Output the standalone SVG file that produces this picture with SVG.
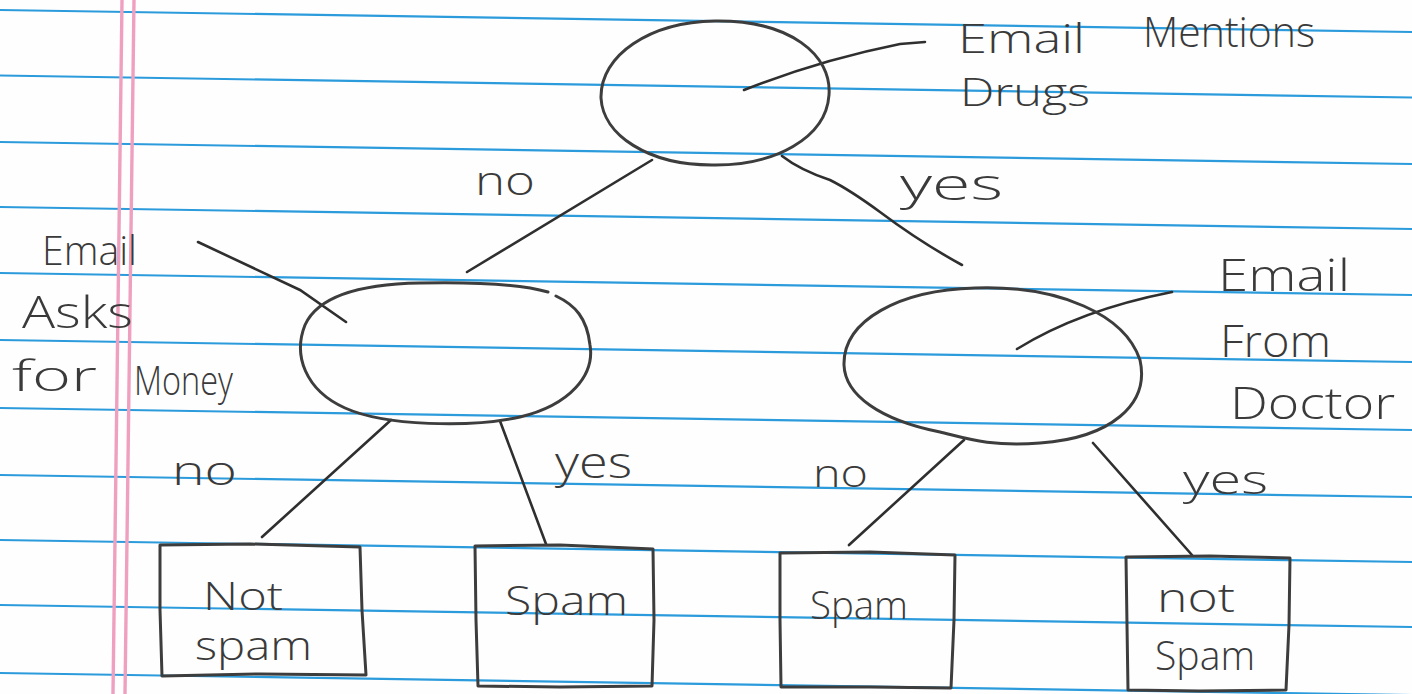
<svg xmlns="http://www.w3.org/2000/svg" width="1412" height="694" viewBox="0 0 1412 694">
<style>
.rule{stroke:#2b9bdc;stroke-width:2.2;fill:none}
.margin{stroke:#f0a0bf;stroke-width:3.4;fill:none}
.shape{stroke:#3d3d3d;stroke-width:3;fill:none;stroke-linecap:round;stroke-linejoin:round}
.edge{stroke:#2f2f2f;stroke-width:2.6;fill:none;stroke-linecap:round}
.lbl{font-family:"Open Sans","DejaVu Sans","Liberation Sans",sans-serif;fill:#3a3a3a;font-weight:300}
</style>
<rect width="1412" height="694" fill="#fefefe"/>
<g id="paper">
<line class="rule" x1="0" y1="10" x2="1412" y2="32"/>
<line class="rule" x1="0" y1="75.5" x2="1412" y2="97.5"/>
<line class="rule" x1="0" y1="142" x2="1412" y2="164"/>
<line class="rule" x1="0" y1="207" x2="1412" y2="229"/>
<line class="rule" x1="0" y1="273" x2="1412" y2="295"/>
<line class="rule" x1="0" y1="340" x2="1412" y2="362"/>
<line class="rule" x1="0" y1="408" x2="1412" y2="430"/>
<line class="rule" x1="0" y1="475" x2="1412" y2="497"/>
<line class="rule" x1="0" y1="540" x2="1412" y2="562"/>
<line class="rule" x1="0" y1="605" x2="1412" y2="627"/>
<line class="rule" x1="0" y1="673" x2="1412" y2="695"/>
<line class="margin" x1="122" y1="0" x2="113" y2="694"/>
<line class="margin" x1="134" y1="0" x2="125" y2="694"/>
</g>
<g id="connectors">
<path class="edge" d="M652,160 L467,272"/>
<path class="edge" d="M782,156 Q800,170 830,180 Q850,190 880,212 Q920,242 962,265"/>
<path class="edge" d="M391,420 L262,537"/>
<path class="edge" d="M500,421 L546,544"/>
<path class="edge" d="M964,440 L849,545"/>
<path class="edge" d="M1093,443 L1192,555"/>
<path class="edge" d="M744,90 Q820,60 900,44 L925,42"/>
<path class="edge" d="M198,242 L300,290 L346,322"/>
<path class="edge" d="M1017,349 Q1080,310 1172,292"/>
</g>
<g id="n-drugs">
<path class="shape" d="M715,21 C790,20 832,55 829,95 C826,138 775,166 712,165 C648,165 603,135 601,98 C600,55 650,22 715,21 Z"/>
<text class="lbl" x="958" y="53" font-size="40" textLength="127" lengthAdjust="spacingAndGlyphs">Email</text>
<text class="lbl" x="1143" y="47" font-size="42" textLength="172" lengthAdjust="spacingAndGlyphs">Mentions</text>
<text class="lbl" x="960" y="106" font-size="38" textLength="130" lengthAdjust="spacingAndGlyphs">Drugs</text>
</g>
<g id="n-money">
<path class="shape" d="M548,292 C520,284 470,282 420,283 C360,284 318,296 305,325 C293,355 305,390 345,408 C385,426 470,428 520,417 C570,405 595,375 590,345 C587,318 575,305 556,296"/>
<text class="lbl" x="42" y="265" font-size="40" textLength="95" lengthAdjust="spacingAndGlyphs">Email</text>
<text class="lbl" x="22" y="328" font-size="44" textLength="111" lengthAdjust="spacingAndGlyphs">Asks</text>
<text class="lbl" x="12" y="391" font-size="42" textLength="85" lengthAdjust="spacingAndGlyphs">for</text>
<text class="lbl" x="134" y="395" font-size="40" textLength="99" lengthAdjust="spacingAndGlyphs">Money</text>
</g>
<g id="n-doctor">
<path class="shape" d="M975,288 C1060,285 1125,315 1140,360 C1150,405 1110,438 1040,443 C990,447 965,438 940,432 C880,420 845,395 844,365 C843,320 900,290 975,288 Z"/>
<text class="lbl" x="1218" y="291" font-size="44" textLength="132" lengthAdjust="spacingAndGlyphs">Email</text>
<text class="lbl" x="1220" y="357" font-size="44" textLength="111" lengthAdjust="spacingAndGlyphs">From</text>
<text class="lbl" x="1230" y="419" font-size="44" textLength="165" lengthAdjust="spacingAndGlyphs">Doctor</text>
</g>
<g id="edge-labels">
<text class="lbl" x="475" y="195" font-size="40" textLength="60" lengthAdjust="spacingAndGlyphs">no</text>
<text class="lbl" x="900" y="200" font-size="44" textLength="103" lengthAdjust="spacingAndGlyphs">yes</text>
<text class="lbl" x="172" y="485" font-size="40" textLength="65" lengthAdjust="spacingAndGlyphs">no</text>
<text class="lbl" x="555" y="478" font-size="44" textLength="77" lengthAdjust="spacingAndGlyphs">yes</text>
<text class="lbl" x="813" y="487" font-size="38" textLength="55" lengthAdjust="spacingAndGlyphs">no</text>
<text class="lbl" x="1183" y="494" font-size="40" textLength="85" lengthAdjust="spacingAndGlyphs">yes</text>
</g>
<g id="leaf-1">
<path class="shape" d="M160,545 L250,544 L360,547 L362,610 L366,675 L260,674 L162,676 L160,610 Z"/>
<text class="lbl" x="203" y="610" font-size="38" textLength="80" lengthAdjust="spacingAndGlyphs">Not</text>
<text class="lbl" x="195" y="660" font-size="40" textLength="117" lengthAdjust="spacingAndGlyphs">spam</text>
</g>
<g id="leaf-2">
<path class="shape" d="M475,546 L560,545 L653,549 L654,620 L652,686 L560,687 L478,686 L476,620 Z"/>
<text class="lbl" x="505" y="615" font-size="40" textLength="123" lengthAdjust="spacingAndGlyphs">Spam</text>
</g>
<g id="leaf-3">
<path class="shape" d="M780,553 L870,552 L955,555 L954,620 L951,688 L870,687 L781,687 L780,620 Z"/>
<text class="lbl" x="810" y="619" font-size="38" textLength="98" lengthAdjust="spacingAndGlyphs">Spam</text>
</g>
<g id="leaf-4">
<path class="shape" d="M1126,557 L1210,556 L1290,558 L1289,625 L1286,690 L1200,691 L1128,690 L1127,625 Z"/>
<text class="lbl" x="1157" y="612" font-size="40" textLength="78" lengthAdjust="spacingAndGlyphs">not</text>
<text class="lbl" x="1155" y="670" font-size="40" textLength="100" lengthAdjust="spacingAndGlyphs">Spam</text>
</g>
</svg>
